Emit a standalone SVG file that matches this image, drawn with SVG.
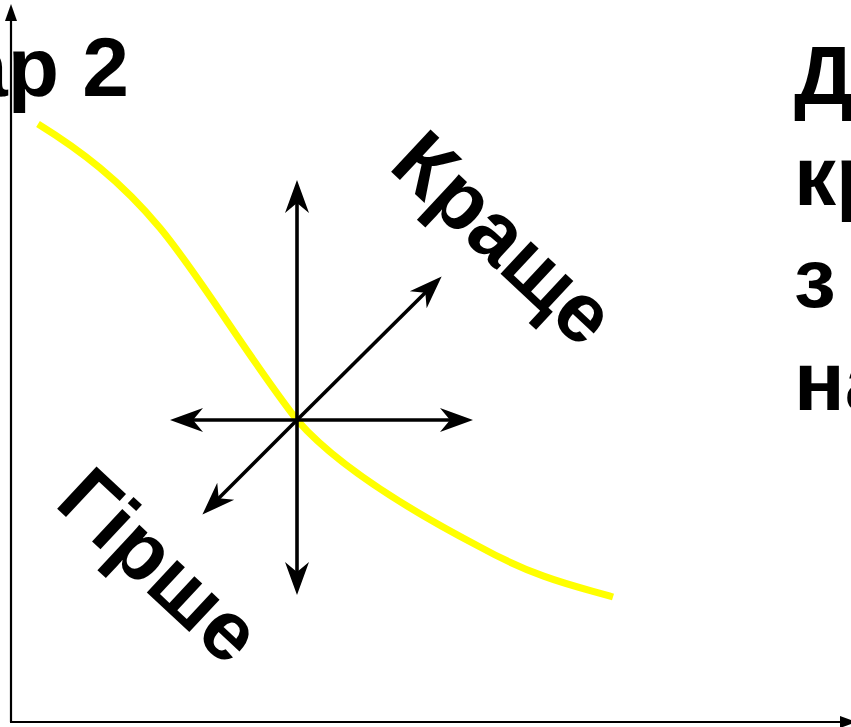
<svg xmlns="http://www.w3.org/2000/svg" width="851" height="727" viewBox="0 0 851 727">
<style>
.t{font-family:"Liberation Sans",Arial,sans-serif;font-weight:bold;font-size:84px;fill:#000}
.ax{stroke:#000;stroke-width:2.2;fill:none}
.ar{stroke:#000;stroke-width:3.6;fill:none}
.curve{stroke:#FFFF00;stroke-width:7;fill:none;stroke-linecap:butt}
</style>
<defs>
<marker id="ah" viewBox="-20 -13 36 26" markerWidth="36" markerHeight="26" refX="0" refY="0" markerUnits="userSpaceOnUse" orient="auto-start-reverse">
<path d="M15,0 L-18,-12 L-8,0 L-18,12 Z" fill="#000"/>
</marker>
<marker id="axh" viewBox="-12 -7 22 14" markerWidth="22" markerHeight="14" refX="0" refY="0" markerUnits="userSpaceOnUse" orient="auto">
<path d="M8,0 L-9,-6 L-9,6 Z" fill="#000"/>
</marker>
</defs>
<rect width="851" height="727" fill="#fff"/>
<g id="axes">
<path class="ax" d="M11,722 L11,12" marker-end="url(#axh)"/>
<path class="ax" d="M10,722 L849,722" marker-end="url(#axh)"/>
</g>
<g id="curve">
<path class="curve" d="M38,124 C80,150 120,180 160,228 C200,276 250,360 297,420 C330,458 390,500 480,547 C540,580 580,587 613,597"/>
</g>
<g id="connectors">
<path class="ar" d="M297,420 L297,195" marker-end="url(#ah)"/>
<path class="ar" d="M297,420 L297,580" marker-end="url(#ah)"/>
<path class="ar" d="M297,420 L185,420" marker-end="url(#ah)"/>
<path class="ar" d="M297,420 L458,420" marker-end="url(#ah)"/>
<path class="ar" d="M297,420 L431,287" marker-end="url(#ah)"/>
<path class="ar" d="M297,420 L213,504" marker-end="url(#ah)"/>
</g>
<g id="title"><text class="t" x="-39" y="96">ар 2</text></g>
<g id="better"><text class="t" transform="translate(387,168) rotate(43)">Краще</text></g>
<g id="worse"><text class="t" transform="translate(53,505) rotate(43)">Гірше</text></g>
<g id="side">
<text class="t" x="794" y="104">Д</text>
<text class="t" x="794" y="205">кр</text>
<text class="t" x="794" y="307">з</text>
<text class="t" x="794" y="410">на</text>
</g>
</svg>
